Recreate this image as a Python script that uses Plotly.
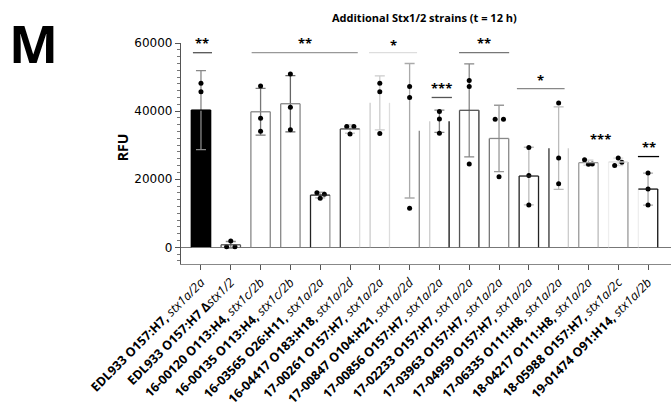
import numpy as np
import plotly.graph_objects as go

# Strain names (bold) and stx genotypes (italic) for each bar
strains = [
    "EDL933 O157:H7,", "EDL933 O157:H7 Δ", "16-00120 O113:H4,", "16-00135 O113:H4,",
    "16-03565 O26:H11,", "16-04417 O183:H18,", "17-00261 O157:H7,", "17-00847 O104:H21,",
    "17-00856 O157:H7,", "17-02233 O157:H7,", "17-03963 O157:H7,", "17-04959 O157:H7,",
    "17-06335 O111:H8,", "18-04217 O111:H8,", "18-05988 O157:H7,", "19-01474 O91:H14,",
]
genotypes = [
    "stx1a/2a", "stx1/2", "stx1c/2b", "stx1c/2b", "stx1a/2a", "stx1a/2d", "stx1a/2a", "stx1a/2d",
    "stx1a/2a", "stx1a/2a", "stx1a/2a", "stx1a/2a", "stx1a/2a", "stx1a/2a", "stx1a/2c", "stx1a/2b",
]

# Replicate RFU readings (three biological replicates per strain)
rep1 = [48200, 1850, 47400, 50900, 16000, 35500, 48200, 47200, 39900, 49000, 37600, 29300, 42400, 24400, 24000, 21800]
rep2 = [45700, 200, 37900, 41100, 15600, 35500, 45700, 44000, 37700, 47200, 37600, 21100, 26200, 25700, 26200, 17100]
rep3 = [27000, 200, 34100, 34500, 14400, 33300, 33400, 11500, 33500, 24500, 20700, 12400, 18700, 24500, 25000, 12400]

# Significance markers: (label, start index, end index, line level or None, text level)
significance = [
    ("**", -0.27, 0.37, 57150, 60100),
    ("**", 1.70, 5.26, 57150, 60100),
    ("*", 5.64, 7.25, 57150, 59500),
    ("***", 7.74, 8.42, 44000, 46800),
    ("**", 8.66, 10.34, 57150, 60100),
    ("*", 10.60, 12.20, 46600, 49000),
    ("***", 13.0, 13.84, None, 31700),
    ("**", 14.66, 15.37, 26650, 29500),
]

reps = np.array([rep1, rep2, rep3], dtype=float)
means = reps.mean(axis=0)
sds = reps.std(axis=0, ddof=1)
xs = np.arange(len(strains))

# ---- styling ----
FONT = "Open Sans"
HALF = 0.325
Y_MIN, Y_MAX = -4900, 60000
fills = ["black"] + ["white"] * 15
edge_left = ["black", "#555", "#888", "#888", "#222", "#444", "#ccc", None,
             "#ccc", "#555", "#777", "#222", "#333", "#999", "#eee", "#eee"]
edge_right = ["black", "#555", "#888", "#888", "#999", "#ddd", "#ddd", "#888",
              "#111", "#333", "#888", "#222", "#ccc", "#bbb", "#999", "#111"]
edge_top = ["black", "#555", "#888", "#888", "#222", "#444", None, None,
            None, "#555", "#888", "#222", None, "#999", "#ddd", "#111"]
err_colors = ["#888", "#888", "#777", "#666", "#aaa", "#ccc", "#ccc", "#aaa",
              "#888", "#888", "#999", "#bbb", "#bbb", "#ccc", "#ddd", "#aaa"]
sig_line_colors = ["#555", "#999", "#ddd", "#555", "#777", "#888", None, "black"]
dot_offsets = [
    [0, 0, 0], [0, -0.14, 0.14], [0, 0, 0], [0, 0, 0], [-0.11, 0.14, 0], [-0.11, 0.13, 0],
    [0, 0, 0], [0, 0, 0], [0, 0, 0], [0, 0, 0], [-0.13, 0.15, 0], [0, 0, 0],
    [0, 0, 0], [0, -0.13, 0.13], [-0.12, 0.0, 0.12], [0, 0, 0],
]

fig = go.Figure()

fig.add_trace(go.Bar(
    x=xs, y=means, width=2 * HALF,
    marker=dict(color=fills, line=dict(width=0)),
    showlegend=False, hoverinfo="skip",
))

# bar outlines, drawn edge by edge
shapes = []
for i, m in enumerate(means):
    for x0, y0, x1, y1, c in [
        (i - HALF, 0, i - HALF, m, edge_left[i]),
        (i + HALF, 0, i + HALF, m, edge_right[i]),
        (i - HALF, m, i + HALF, m, edge_top[i]),
    ]:
        if c is None:
            continue
        shapes.append(dict(type="line", xref="x", yref="y", x0=x0, y0=y0, x1=x1, y1=y1,
                           line=dict(color=c, width=1.3), layer="above"))

# error bars (mean ± SD)
for i in range(len(strains)):
    fig.add_trace(go.Scatter(
        x=[i], y=[means[i]], mode="markers",
        marker=dict(size=1, color="rgba(0,0,0,0)"),
        error_y=dict(type="data", array=[sds[i]], color=err_colors[i], thickness=1.3, width=5),
        showlegend=False, hoverinfo="skip",
    ))

# individual replicate dots
dx, dy = [], []
for i in range(len(strains)):
    for k in range(3):
        dx.append(i + dot_offsets[i][k])
        dy.append(reps[k, i])
fig.add_trace(go.Scatter(
    x=dx, y=dy, mode="markers",
    marker=dict(size=5, color="black"),
    showlegend=False, hoverinfo="skip",
))


def to_paper(v):
    return (v - Y_MIN) / (Y_MAX - Y_MIN)


annotations = []
for (lab, a, b, lvl, ty), lc in zip(significance, sig_line_colors):
    if lvl is not None:
        shapes.append(dict(type="line", xref="x", yref="y", x0=a, x1=b, y0=lvl, y1=lvl,
                           line=dict(color=lc, width=1.3)))
    annotations.append(dict(x=(a + b) / 2, y=to_paper(ty), xref="x", yref="paper",
                            text=f"<b>{lab}</b>", showarrow=False,
                            font=dict(family=FONT, size=13, color="black"),
                            yanchor="middle"))

annotations += [
    dict(x=0.496, y=1.16, xref="paper", yref="paper", showarrow=False,
         text="<b>Additional Stx1/2 strains (t = 12 h)</b>",
         font=dict(family=FONT, size=11, color="black")),
    dict(x=-0.355, y=1.17, xref="paper", yref="paper", showarrow=False,
         xanchor="left", yanchor="top",
         text="<b>M</b>", font=dict(family=FONT, size=52, color="black")),
    dict(x=-0.143, y=0.53, xref="paper", yref="paper", showarrow=False, textangle=-90,
         text="<b>RFU</b>", font=dict(family=FONT, size=14, color="black")),
]

ticktext = [f"<b>{s}</b> <i>{g}</i>" if not s.endswith("Δ") else f"<b>{s}</b><i>{g}</i>"
            for s, g in zip(strains, genotypes)]

fig.update_layout(
    width=671, height=415,
    margin=dict(l=181, r=0, t=43, b=151),
    plot_bgcolor="white", paper_bgcolor="white",
    bargap=0,
    shapes=shapes, annotations=annotations,
    xaxis=dict(
        range=[-0.67, 15.77], tickmode="array", tickvals=list(xs), ticktext=ticktext,
        tickangle=-45, ticks="outside", ticklen=5, tickcolor="#555", tickwidth=1.3,
        showline=True, linecolor="#888", linewidth=1.3, showgrid=False, zeroline=False,
        tickfont=dict(family=FONT, size=12.5, color="black"), automargin=False,
    ),
    yaxis=dict(
        range=[Y_MIN, Y_MAX], tickvals=[0, 20000, 40000, 60000],
        ticks="outside", ticklen=5, tickcolor="#555", tickwidth=1.3,
        minor=dict(dtick=2000, tick0=0, ticks="outside", ticklen=3, tickcolor="#777", tickwidth=1),
        showline=True, linecolor="#555", linewidth=1.3, showgrid=False,
        zeroline=True, zerolinecolor="#777", zerolinewidth=1.3,
        tickfont=dict(family="DejaVu Sans", size=12, color="black"), tickformat="d",
        tickprefix="<b>", ticksuffix="</b>", automargin=False,
    ),
)

fig.write_html("out.html")
